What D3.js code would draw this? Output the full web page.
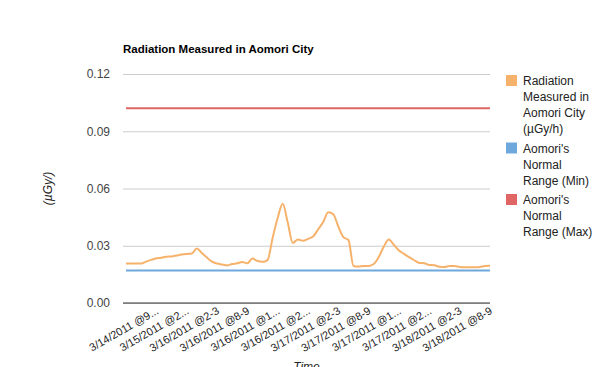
<!DOCTYPE html>
<html><head><meta charset="utf-8">
<script src="https://cdn.jsdelivr.net/npm/d3@7"></script>
<style>body{margin:0;background:#fff;}svg{display:block;font-family:Arial,"Liberation Sans",sans-serif;}</style>
</head><body><svg id="c" width="597" height="367"></svg>
<script>
const title = "Radiation Measured in Aomori City";
const yTitle = "(\u00b5Gy/)";
const xTitle = "Time";
const seriesNames = ["Radiation Measured in Aomori City (\u00b5Gy/h)", "Aomori's Normal Range (Min)", "Aomori's Normal Range (Max)"];
const legendLines = [["Radiation","Measured in","Aomori City","(\u00b5Gy/h)"],["Aomori's","Normal","Range (Min)"],["Aomori's","Normal","Range (Max)"]];
const colors = ["#f6b26b", "#6fa8dc", "#e06666"];
const radiation = [
 0.0207,0.0207,0.0207,0.0207,0.0217,0.0226,0.0234,0.0237,0.0243,0.0244,
 0.0249,0.0254,0.0257,0.0259,0.0286,0.0262,0.0238,0.0217,0.0207,0.0202,
 0.0197,0.0204,0.0208,0.0215,0.0208,0.0233,0.0220,0.0216,0.0225,0.0341,
 0.0445,0.0520,0.0420,0.0314,0.0333,0.0326,0.0336,0.0348,0.0385,0.0424,
 0.0475,0.0465,0.0400,0.0345,0.0330,0.0194,0.0191,0.0194,0.0194,0.0204,
 0.0241,0.0296,0.0333,0.0304,0.0275,0.0257,0.0240,0.0224,0.0210,0.0208,
 0.0199,0.0198,0.0190,0.0189,0.0194,0.0194,0.0189,0.0187,0.0187,0.0187,
 0.0189,0.0194,0.0195];
const normalMin = 0.017;
const normalMax = 0.102;
const tickLabels = ["3/14/2011 @9...","3/15/2011 @2...","3/16/2011 @2-3","3/16/2011 @8-9","3/16/2011 @1...","3/16/2011 @2...","3/17/2011 @2-3","3/17/2011 @8-9","3/17/2011 @1...","3/17/2011 @2...","3/18/2011 @2-3","3/18/2011 @8-9"];
const labelEvery = 6, labelStart = 6;
const yTicks = [0, 0.03, 0.06, 0.09, 0.12];

const svg = d3.select("#c");
const L = 123, R = 490, T = 74, B = 303;
const idx = d3.range(radiation.length);
const x = d3.scalePoint().domain(idx).range([126, 490]);
const y = d3.scaleLinear().domain([0, 0.12]).range([B, T]);

svg.append("text").attr("x", L).attr("y", 53).attr("font-size", 11.5).attr("font-weight", "bold").attr("fill", "#000").text(title);

// grid
const yAxis = d3.axisLeft(y).tickValues(yTicks).tickFormat(d3.format(".2f")).tickSize(-(R - L)).tickPadding(13);
const ga = svg.append("g").attr("transform", `translate(${L},0)`).call(yAxis);
ga.select(".domain").remove();
ga.selectAll(".tick line").attr("stroke", "#ccc");
ga.selectAll(".tick text").attr("font-size", 12).attr("fill", "#444").attr("font-family", "Arial,'Liberation Sans',sans-serif");

// series
const line = d3.line().x(i => x(i)).y(i => y(radiation[i])).curve(d3.curveMonotoneX);
svg.append("path").attr("d", d3.line()([[x(0), y(normalMin)], [x(idx.length-1), y(normalMin)]])).attr("stroke", colors[1]).attr("stroke-width", 2).attr("fill", "none");
svg.append("path").attr("d", d3.line()([[x(0), y(normalMax)], [x(idx.length-1), y(normalMax)]])).attr("stroke", colors[2]).attr("stroke-width", 2).attr("fill", "none");
svg.append("path").attr("d", line(idx)).attr("stroke", colors[0]).attr("stroke-width", 2).attr("fill", "none");

// baseline
svg.append("line").attr("x1", L).attr("x2", R).attr("y1", y(0)).attr("y2", y(0)).attr("stroke", "#333").attr("stroke-width", 1);

// x labels
tickLabels.forEach((t, k) => {
  const i = labelStart + k * labelEvery;
  svg.append("text").attr("transform", `translate(${x(i) + 3},${B + 10}) rotate(-30)`)
    .attr("text-anchor", "end").attr("font-size", 11).attr("fill", "#222").text(t);
});

svg.append("text").attr("x", (L + R) / 2).attr("y", 371).attr("text-anchor", "middle").attr("font-size", 12).attr("font-style", "italic").attr("fill", "#222").text(xTitle);
svg.append("text").attr("transform", `translate(52,${(T + B) / 2}) rotate(-90)`).attr("text-anchor", "middle").attr("font-size", 12).attr("font-style", "italic").attr("fill", "#222").text(yTitle);

// legend
let ly = 75;
legendLines.forEach((lines, k) => {
  svg.append("rect").attr("x", 506).attr("y", ly).attr("width", 11).attr("height", 11).attr("fill", colors[k]);
  lines.forEach((s, j) => {
    svg.append("text").attr("x", 523).attr("y", ly + 10 + j * 16).attr("font-size", 12).attr("fill", "#222").text(s);
  });
  ly += lines.length * 16 + 3.5;
});
</script></body></html>
